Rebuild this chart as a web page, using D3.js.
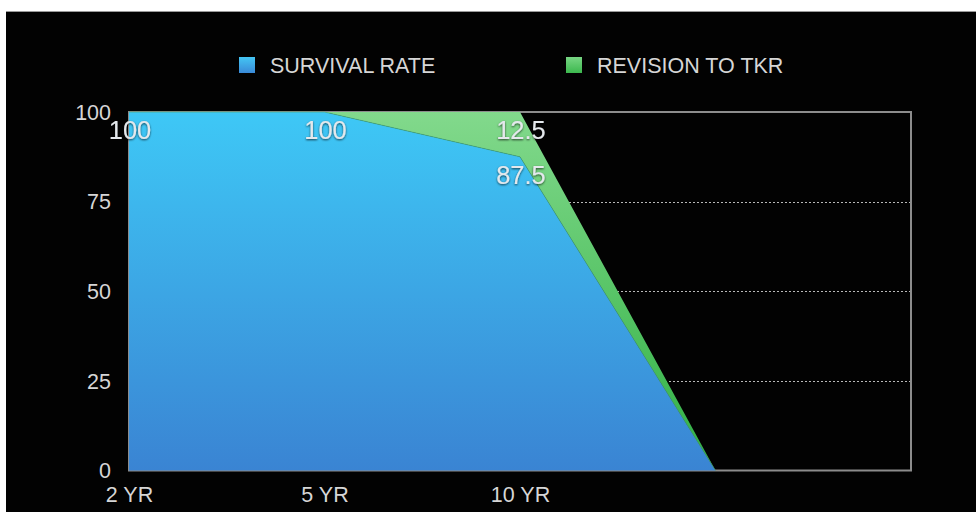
<!DOCTYPE html>
<html>
<head>
<meta charset="utf-8">
<script src="https://cdn.jsdelivr.net/npm/d3@7"></script>
<style>
  html, body { margin: 0; padding: 0; background: #fff; }
  svg { display: block; }
  text { font-family: "Liberation Sans", Arial, Helvetica, sans-serif; }
</style>
</head>
<body>
<svg id="chart" width="976" height="512"></svg>
<script>
// Period labels along the x axis (the last two periods have no label)
const periods = ["2 YR", "5 YR", "10 YR", "", ""];
// Series values per period (null = no data)
const survivalRate = [100, 100, 87.5, 0, null];
const revisionTKR = [0, 0, 12.5, 0, null];
// Value axis ticks
const yTicks = [0, 25, 50, 75, 100];
const seriesNames = ["SURVIVAL RATE", "REVISION TO TKR"];

const svg = d3.select("#chart");
const W = 976, H = 512;
const plot = { left: 129, right: 911, top: 112, bottom: 470.5 };

// slide background
svg.append("rect").attr("x", 6).attr("y", 11).attr("width", W - 6).attr("height", H - 11).attr("fill", "#020202");
svg.append("line").attr("x1", 6).attr("x2", W).attr("y1", 11.5).attr("y2", 11.5)
  .attr("stroke", "#9a9a9a").attr("stroke-width", 1);

const x = d3.scalePoint().domain(d3.range(periods.length)).range([plot.left, plot.right]);
const y = d3.scaleLinear().domain([0, 100]).range([plot.bottom, plot.top]);

const defs = svg.append("defs");
const blueGrad = defs.append("linearGradient").attr("id", "blueGrad")
  .attr("gradientUnits", "userSpaceOnUse").attr("x1", 0).attr("x2", 0)
  .attr("y1", plot.top).attr("y2", plot.bottom);
blueGrad.append("stop").attr("offset", "0%").attr("stop-color", "#3ec8f6");
blueGrad.append("stop").attr("offset", "100%").attr("stop-color", "#3a84d3");
const greenGrad = defs.append("linearGradient").attr("id", "greenGrad")
  .attr("gradientUnits", "userSpaceOnUse").attr("x1", 0).attr("x2", 0)
  .attr("y1", plot.top).attr("y2", plot.bottom);
greenGrad.append("stop").attr("offset", "0%").attr("stop-color", "#82d98c");
greenGrad.append("stop").attr("offset", "100%").attr("stop-color", "#2fb043");
const legendBlue = defs.append("linearGradient").attr("id", "legendBlue")
  .attr("x1", 0).attr("x2", 0).attr("y1", 0).attr("y2", 1);
legendBlue.append("stop").attr("offset", "0%").attr("stop-color", "#44c6f4");
legendBlue.append("stop").attr("offset", "100%").attr("stop-color", "#3a8ad8");
const legendGreen = defs.append("linearGradient").attr("id", "legendGreen")
  .attr("x1", 0).attr("x2", 0).attr("y1", 0).attr("y2", 1);
legendGreen.append("stop").attr("offset", "0%").attr("stop-color", "#78d684");
legendGreen.append("stop").attr("offset", "100%").attr("stop-color", "#3cb84e");

const shadow = defs.append("filter").attr("id", "txtShadow")
  .attr("x", "-20%").attr("y", "-20%").attr("width", "140%").attr("height", "160%");
shadow.append("feDropShadow").attr("dx", 0).attr("dy", 1).attr("stdDeviation", 1)
  .attr("flood-color", "#000").attr("flood-opacity", 0.7);

// dotted gridlines
svg.append("g").selectAll("line").data(yTicks.filter(t => t > 0 && t < 100)).join("line")
  .attr("x1", plot.left).attr("x2", plot.right)
  .attr("y1", d => Math.round(y(d)) + 0.5).attr("y2", d => Math.round(y(d)) + 0.5)
  .attr("stroke", "#b8b8b8").attr("stroke-width", 1).attr("stroke-dasharray", "2,2");

// plot frame
svg.append("rect")
  .attr("x", plot.left).attr("y", plot.top)
  .attr("width", plot.right - plot.left).attr("height", plot.bottom - plot.top)
  .attr("fill", "none").attr("stroke", "#8c8c8c").attr("stroke-width", 2);

// stacked areas
const rows = periods.map((p, i) => ({ i, s: survivalRate[i], r: revisionTKR[i] }));
const defined = d => d.s != null && d.r != null;
const survivalArea = d3.area().defined(defined)
  .x(d => x(d.i)).y0(() => y(0)).y1(d => y(d.s));
const revisionArea = d3.area().defined(defined)
  .x(d => x(d.i)).y0(d => y(d.s)).y1(d => y(d.s + d.r));

svg.append("path").datum(rows).attr("d", revisionArea)
  .attr("fill", "url(#greenGrad)");
svg.append("path").datum(rows).attr("d", survivalArea)
  .attr("fill", "url(#blueGrad)");
svg.append("path").datum(rows.filter(defined))
  .attr("d", d3.line().x(d => x(d.i)).y(d => y(d.s)))
  .attr("fill", "none").attr("stroke", "#4aa86a").attr("stroke-opacity", 0.6).attr("stroke-width", 1);

// y axis labels
const yAxis = d3.axisLeft(y).tickValues(yTicks).tickSize(0).tickPadding(0);
const yg = svg.append("g").attr("transform", `translate(${plot.left - 18},0)`).call(yAxis);
yg.select(".domain").remove();
yg.selectAll("text").attr("fill", "#d6d6d6").attr("font-size", 21.5)
  .attr("dy", "0.34em");

// x axis labels
const xAxis = d3.axisBottom(x).tickFormat(i => periods[i]).tickSize(0).tickPadding(0);
const xg = svg.append("g").attr("transform", `translate(0,${plot.bottom + 31})`).call(xAxis);
xg.select(".domain").remove();
xg.selectAll("text").attr("fill", "#d6d6d6").attr("font-size", 21.5).attr("dy", 0);

// value labels
const labels = [];
rows.forEach(d => {
  if (!defined(d)) return;
  if (d.s > 0) labels.push({ i: d.i, top: d.s, v: d.s });
  if (d.r > 0) labels.push({ i: d.i, top: d.s + d.r, v: d.r });
});
svg.append("g").selectAll("text").data(labels).join("text")
  .attr("x", d => x(d.i) + 1)
  .attr("y", d => y(d.top) + 27)
  .attr("text-anchor", "middle")
  .attr("font-size", 25.5)
  .attr("fill", "#e4e8ec")
  .attr("filter", "url(#txtShadow)")
  .text(d => d3.format("~g")(d.v));

// legend
const legend = svg.append("g");
const legendItems = [
  { name: seriesNames[0], fill: "url(#legendBlue)", x: 239 },
  { name: seriesNames[1], fill: "url(#legendGreen)", x: 566 }
];
legendItems.forEach(it => {
  legend.append("rect").attr("x", it.x).attr("y", 57).attr("width", 16).attr("height", 16)
    .attr("fill", it.fill);
  legend.append("text").attr("x", it.x + 31).attr("y", 73)
    .attr("font-size", 21.5).attr("fill", "#d6d6d6").text(it.name);
});
</script>
</body>
</html>
